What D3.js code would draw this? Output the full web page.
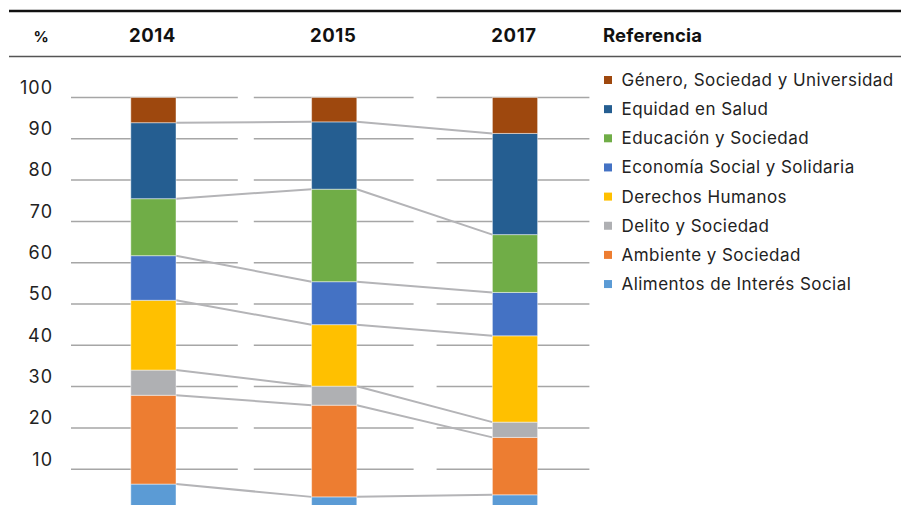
<!DOCTYPE html>
<html>
<head>
<meta charset="utf-8">
<script src="https://cdn.jsdelivr.net/npm/d3@7"></script>
<style>
  body { margin: 0; background: #fff; }
  text { font-family: Inter, 'Liberation Sans', sans-serif; }
</style>
</head>
<body>
<div id="chart"></div>
<script>
// Data (percent of projects per area)
var years = ['2014', '2015', '2017'];
var areas = [
  'Alimentos de Interés Social',
  'Ambiente y Sociedad',
  'Delito y Sociedad',
  'Derechos Humanos',
  'Economía Social y Solidaria',
  'Educación y Sociedad',
  'Equidad en Salud',
  'Género, Sociedad y Universidad'
];
var alimentos = [6.4, 3.3, 3.8];
var ambiente = [21.5, 22.2, 13.9];
var delito = [6.1, 4.6, 3.7];
var derechos = [16.9, 14.9, 20.9];
var economia = [10.8, 10.4, 10.5];
var educacion = [13.8, 22.4, 14.0];
var equidad = [18.4, 16.3, 24.5];
var genero = [6.1, 5.9, 8.7];
var yTicks = [10, 20, 30, 40, 50, 60, 70, 80, 90, 100];

var colors = ['#5b9bd5', '#ed7d31', '#afb0b3', '#ffc000', '#4472c4', '#70ad47', '#255e91', '#9e480e'];

// Build rows for d3.stack
var seriesValues = [alimentos, ambiente, delito, derechos, economia, educacion, equidad, genero];
var rows = years.map(function (yr, i) {
  var row = { year: yr };
  areas.forEach(function (a, k) {
    row[a] = seriesValues[k][i];
  });
  return row;
});

var width = 901,
  height = 505;

var svg = d3
  .select('#chart')
  .append('svg')
  .attr('width', width)
  .attr('height', height);

var x = d3.scaleBand().domain(years).range([63, 605.4]);
var y = d3.scaleLinear().domain([0, 100]).range([510.5, 97.5]);
var barWidth = x.bandwidth() * 0.25;

function barLeft(yr) {
  return x(yr) + (x.bandwidth() - barWidth) / 2;
}

// Header rules
svg.append('line')
  .attr('x1', 9).attr('x2', width)
  .attr('y1', 11).attr('y2', 11)
  .attr('stroke', '#111').attr('stroke-width', 2.5);
svg.append('line')
  .attr('x1', 9).attr('x2', width)
  .attr('y1', 56.5).attr('y2', 56.5)
  .attr('stroke', '#555').attr('stroke-width', 1.5);

// Header texts
var header = svg.append('g')
  .attr('font-weight', 700)
  .attr('font-size', 18.5)
  .attr('letter-spacing', 0.6)
  .attr('fill', '#111');
header.append('text')
  .attr('x', 41.5).attr('y', 41.5)
  .attr('text-anchor', 'middle')
  .attr('font-size', 15)
  .text('%');
header.selectAll('.yr')
  .data(years)
  .enter()
  .append('text')
  .attr('class', 'yr')
  .attr('x', function (d) { return x(d) + x.bandwidth() / 2 - 1; })
  .attr('y', 41.5)
  .attr('text-anchor', 'middle')
  .text(function (d) { return d; });
header.append('text')
  .attr('x', 603).attr('y', 41.5)
  .attr('letter-spacing', 0.2)
  .text('Referencia');

// Gridlines, one piece per column
var grid = svg.append('g')
  .attr('stroke', '#a6a6a6')
  .attr('stroke-width', 1.5);
years.forEach(function (yr, i) {
  grid.selectAll(null)
    .data(yTicks)
    .enter()
    .append('line')
    .attr('x1', x(yr) + 8 + i * 2)
    .attr('x2', x(yr) + x.bandwidth() - 6 - i * 5)
    .attr('y1', function (d) { return y(d); })
    .attr('y2', function (d) { return y(d); });
});

// Y labels (sit above their gridline)
svg.append('g')
  .selectAll('text')
  .data(yTicks)
  .enter()
  .append('text')
  .attr('x', 53)
  .attr('y', function (d) { return y(d) - 10; })
  .attr('dy', '0.35em')
  .attr('text-anchor', 'end')
  .attr('font-size', 18)
  .attr('letter-spacing', 1)
  .attr('fill', '#222')
  .text(function (d) { return d; });

// Stacked bars
var stacked = d3.stack().keys(areas)(rows);

// Connector lines between stack boundaries
var links = [];
stacked.slice(0, areas.length - 1).forEach(function (s) {
  for (var i = 0; i < years.length - 1; i++) {
    links.push({ a: s[i], b: s[i + 1] });
  }
});
svg.append('g')
  .selectAll('line')
  .data(links)
  .enter()
  .append('line')
  .attr('x1', function (d) { return barLeft(d.a.data.year) + barWidth; })
  .attr('x2', function (d) { return barLeft(d.b.data.year); })
  .attr('y1', function (d) { return y(d.a[1]); })
  .attr('y2', function (d) { return y(d.b[1]); })
  .attr('stroke', '#b4b4b7')
  .attr('stroke-width', 2);

svg.append('g')
  .selectAll('g')
  .data(stacked)
  .enter()
  .append('g')
  .attr('fill', function (d, i) { return colors[i]; })
  .selectAll('rect')
  .data(function (d) { return d; })
  .enter()
  .append('rect')
  .attr('x', function (d) { return barLeft(d.data.year); })
  .attr('width', barWidth)
  .attr('y', function (d) { return y(d[1]); })
  .attr('height', function (d) { return y(d[0]) - y(d[1]); })
  .attr('stroke', 'rgba(255,255,255,0.45)')
  .attr('stroke-width', 1);

// Legend, top series first
var legend = svg.append('g')
  .selectAll('g')
  .data(areas.slice().reverse())
  .enter()
  .append('g')
  .attr('transform', function (d, i) { return 'translate(604,' + (80 + i * 29.15) + ')'; });
legend.append('rect')
  .attr('x', 0).attr('y', -4)
  .attr('width', 8).attr('height', 8)
  .attr('fill', function (d) { return colors[areas.indexOf(d)]; });
legend.append('text')
  .attr('x', 17.5)
  .attr('dy', '0.35em')
  .attr('font-size', 17)
  .attr('letter-spacing', 0.45)
  .attr('fill', '#222')
  .text(function (d) { return d; });
</script>
</body>
</html>
